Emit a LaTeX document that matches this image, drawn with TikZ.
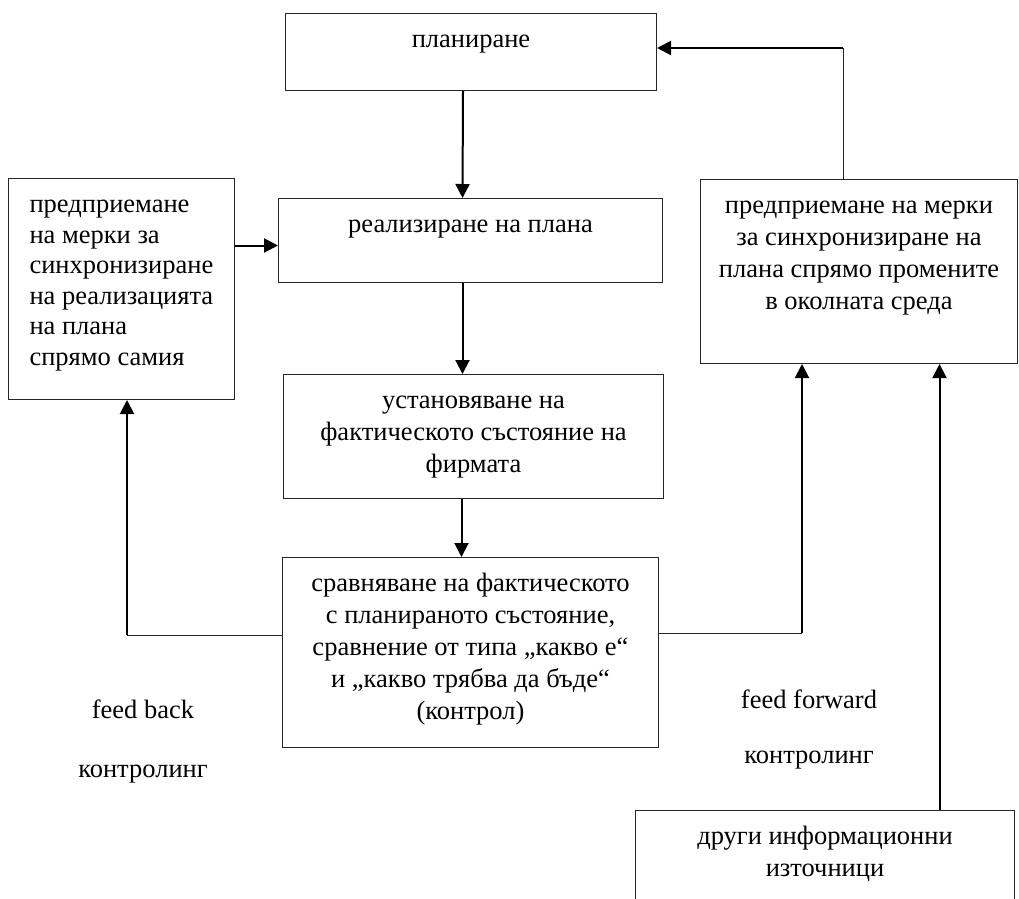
\documentclass[tikz,border=0pt]{standalone}
\usepackage{fontspec}
\setmainfont{Liberation Serif}
\usetikzlibrary{arrows.meta,positioning}

% text set at the top of a box of fixed size
\newcommand{\boxtext}[4][\centering]{\parbox[c][#3][t]{#2}{#1\rule{0pt}{34pt}#4}}

\tikzset{
  box/.style={draw=black!85, line width=1pt, inner sep=0pt, anchor=north west},
  label/.style={anchor=base, inner sep=0pt},
  arrowline/.style={line width=2pt, -{Triangle[width=14pt,length=14pt]}},
  thinline/.style={line width=1pt, draw=black!85}
}

\begin{document}
\begin{tikzpicture}[x=1pt, y=-1pt, font=\fontsize{26.5pt}{32pt}\selectfont]
  \useasboundingbox (0,0) rectangle (1019,898);
  \clip (0,0) rectangle (1019,898);

  % boxes
  \node[box] (plan) at (285,13) {\boxtext{371pt}{77pt}{планиране}};
  \node[box] (realize) at (278,198) {\boxtext{384pt}{84pt}{реализиране на плана}};
  \node[box] (adjustplan) at (8,178) {\fontsize{26.5pt}{30.5pt}\selectfont
    \boxtext[\raggedright\leftskip=21pt]{226pt}{221pt}{предприемане\\на мерки за\\синхронизиране\\на реализацията\\на плана\\спрямо самия}};
  \node[box] (adjustenv) at (700,179) {\boxtext{317pt}{184pt}{предприемане на мерки\\за синхронизиране на\\плана спрямо промените\\в околната среда}};
  \node[box] (state) at (283,374) {\boxtext{380pt}{124pt}{установяване на\\фактическото състояние на\\фирмата}};
  \node[box] (compare) at (282,557) {\boxtext{376pt}{190pt}{сравняване на фактическото\\с планираното състояние,\\сравнение от типа „какво е“\\и „какво трябва да бъде“\\(контрол)}};
  \node[box] (other) at (635,810) {\boxtext{379pt}{130pt}{други информационни\\източници}};

  % labels
  \node[label] (fbtext) at (143,718) {feed back};
  \node[label] (fbctrl) at (143,777) {контролинг};
  \node[label] (fftext) at (809,708) {feed forward};
  \node[label] (ffctrl) at (809,763) {контролинг};

  % corners of the connectors
  \coordinate (plancorner) at (843,48);
  \coordinate (fbcorner) at (127,635);
  \coordinate (ffcorner) at (802,633);

  % connectors
  \draw[arrowline] ([xshift=-8pt]plan.south) -- ([xshift=-8pt]realize.north);
  \draw[arrowline] ([xshift=-8pt]realize.south) -- ([xshift=-8pt]realize.south |- state.north);
  \draw[arrowline] ([xshift=-12pt]state.south) -- ([xshift=-12pt]state.south |- compare.north);
  \draw[arrowline] ([yshift=-5pt]realize.west -| adjustplan.east) -- ([yshift=-5pt]realize.west);
  \draw[thinline] (plancorner |- adjustenv.north) -- (plancorner);
  \draw[arrowline] (plancorner) -- (plancorner -| plan.east);
  \draw[thinline] (fbcorner -| compare.west) -- (fbcorner);
  \draw[arrowline] (fbcorner) -- (fbcorner |- adjustplan.south);
  \draw[thinline] (ffcorner -| compare.east) -- (ffcorner);
  \draw[arrowline] (ffcorner) -- (ffcorner |- adjustenv.south);
  \draw[arrowline] ([xshift=114.5pt]other.north) -- ([xshift=114.5pt]other.north |- adjustenv.south);
\end{tikzpicture}
\end{document}
